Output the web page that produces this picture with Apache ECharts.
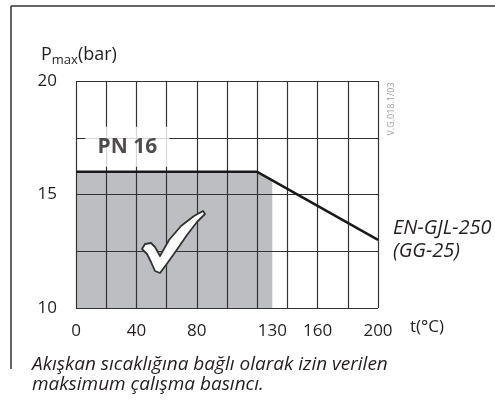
<!DOCTYPE html>
<html>
<head>
<meta charset="utf-8">
<script src="https://cdn.jsdelivr.net/npm/echarts@6/dist/echarts.min.js"></script>
<style>
  html, body { margin: 0; padding: 0; background: #fff; }
  #chart { width: 495px; height: 403px; }
</style>
</head>
<body>
<div id="chart"></div>
<script>
// temperature (°C) / max pressure (bar) of the EN-GJL-250 limit line
var lineT = [0, 120, 200];
var lineP = [16, 16, 13];
// grey allowed zone, 0..130 °C under the limit line
var zoneT = [0, 120, 130];
var zoneP = [16, 16, 15.625];
// tick labels shown on the axes
var tLabels = [0, 40, 80, 130, 160, 200];
var pLabels = [10, 15, 20];

var txt = '#231f20';
var font = '"Open Sans", "Noto Sans", sans-serif';

var chart = echarts.init(document.getElementById('chart'));

chart.setOption({
  animation: false,
  textStyle: { fontFamily: font },
  grid: { left: 76, right: 117, top: 81, bottom: 95 },
  title: {
    left: 36, top: 41,
    text: '{p|P}{s|max}{p|(bar)}',
    textStyle: {
      rich: {
        p: { fontSize: 18, color: txt, fontFamily: font, fontWeight: 'normal', lineHeight: 21, verticalAlign: 'top' },
        s: { fontSize: 13, color: txt, fontFamily: font, fontWeight: 'normal', lineHeight: 21, verticalAlign: 'bottom' }
      }
    }
  },
  xAxis: {
    type: 'value',
    min: 0, max: 200, interval: 20,
    z: 3,
    name: 't(°C)',
    nameLocation: 'end',
    nameGap: 32,
    nameTextStyle: { fontSize: 17, color: txt, verticalAlign: 'top', padding: [11, 0, 0, 0] },
    axisLine: { show: false },
    axisTick: { show: false },
    axisLabel: {
      customValues: tLabels,
      fontSize: 17, color: txt, margin: 15
    },
    splitLine: { show: true, lineStyle: { color: '#333', width: 1.2 } }
  },
  yAxis: {
    type: 'value',
    min: 10, max: 20, interval: 2.5,
    z: 3,
    axisLine: { show: false },
    axisTick: { show: false },
    axisLabel: {
      fontSize: 17, color: txt, margin: 19,
      formatter: function (v) { return pLabels.indexOf(v) >= 0 ? v : ''; }
    },
    splitLine: { show: true, lineStyle: { color: '#333', width: 1.2 } }
  },
  series: [
    {
      name: 'zone',
      type: 'line',
      z: 1,
      symbol: 'none',
      data: zoneT.map(function (t, i) { return [t, zoneP[i]]; }),
      lineStyle: { width: 0 },
      areaStyle: { color: '#bdbec1', opacity: 1, origin: 'start' }
    },
    {
      name: 'EN-GJL-250',
      type: 'line',
      z: 5,
      symbol: 'none',
      data: lineT.map(function (t, i) { return [t, lineP[i]]; }),
      lineStyle: { color: '#1a1a1a', width: 2.5 },
      endLabel: {
        show: true,
        distance: 15,
        formatter: 'EN-GJL-250\n(GG-25)',
        fontSize: 20, fontStyle: 'italic', color: txt, lineHeight: 23
      }
    },
    {
      name: 'PN',
      type: 'scatter',
      z: 6,
      symbolSize: 0,
      data: [[34, 17.1]],
      label: {
        show: true,
        position: 'inside',
        formatter: 'PN 16',
        fontSize: 21, fontWeight: 'bold', color: txt,
        backgroundColor: '#fff',
        width: 84, height: 40, lineHeight: 40, align: 'center'
      }
    }
  ],
  graphic: [
    { type: 'line', z: 10, shape: { x1: 11, y1: 6, x2: 495, y2: 6 }, style: { stroke: '#333', lineWidth: 1.5 } },
    { type: 'line', z: 10, shape: { x1: 11, y1: 6, x2: 11, y2: 369 }, style: { stroke: '#333', lineWidth: 1.5 } },
    {
      type: 'text', z: 10, x: 391, y: 109, rotation: Math.PI / 2,
      style: { text: 'V.G.018.1/03', fontSize: 9, fill: '#a0a0a0', fontFamily: font, align: 'center', verticalAlign: 'middle' }
    },
    {
      // check mark drawn in the allowed zone
      type: 'polygon', z: 10,
      shape: {
        points: [[142, 249], [145, 244], [151, 243], [155, 247], [160, 256], [169, 240], [181, 226],
                 [194, 216], [203, 211], [205, 214], [197, 222], [187, 235], [176, 251], [166, 265],
                 [160, 273], [155, 271], [151, 262], [147, 254]]
      },
      style: { fill: '#fff', stroke: '#333', lineWidth: 1.8, lineJoin: 'round' }
    },
    {
      type: 'text', z: 10, x: 32, y: 355,
      style: {
        text: 'Akışkan sıcaklığına bağlı olarak izin verilen\nmaksimum çalışma basıncı.',
        fontSize: 19, fontStyle: 'italic', fill: txt, fontFamily: font, lineHeight: 20
      }
    }
  ]
});
</script>
</body>
</html>
